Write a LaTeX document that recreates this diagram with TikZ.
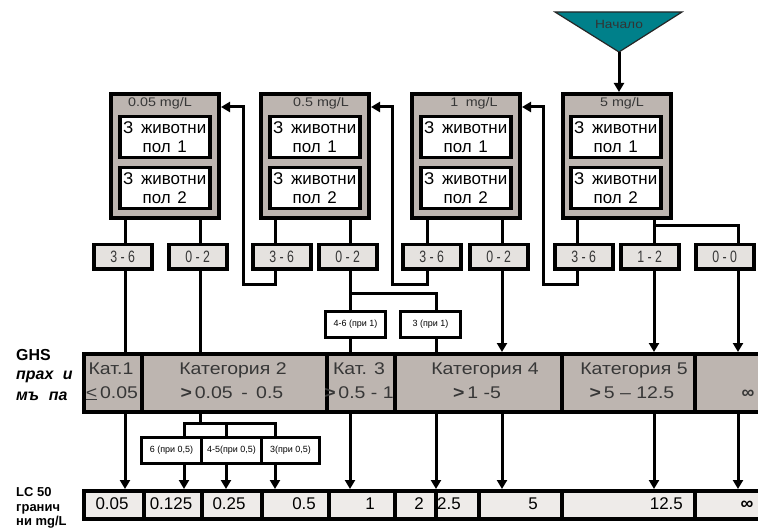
\documentclass[tikz,border=0pt]{standalone}
\usepackage{fontspec}
\setmainfont{Liberation Sans}
\newfontfamily\widefont[FakeStretch=1.15]{Liberation Sans}
\newfontfamily\condfont[FakeStretch=0.75]{Liberation Sans}
\usetikzlibrary{arrows.meta,calc}
\definecolor{dosegrey}{RGB}{189,181,176}
\definecolor{countfill}{RGB}{229,226,223}
\definecolor{lcfill}{RGB}{238,235,233}
\definecolor{startteal}{RGB}{0,128,138}
\definecolor{inkgrey}{RGB}{55,55,55}
\begin{document}
\begin{tikzpicture}[x=1bp,y=-1bp,
  every node/.style={inner sep=0pt},
  dosebox/.style={draw,line width=4bp,fill=dosegrey,minimum width=108bp,minimum height=124bp,anchor=north west},
  dosehead/.style={font=\widefont\fontsize{12.5}{14}\selectfont,text=inkgrey,anchor=base},
  animalbox/.style={draw,line width=3.5bp,fill=white,minimum width=90bp,minimum height=41bp,anchor=north west,align=center,font=\fontsize{17}{19}\selectfont},
  countbox/.style={draw,line width=3.5bp,fill=countfill,minimum width=58bp,minimum height=24bp,anchor=north west,font=\condfont\fontsize{16.5}{18}\selectfont,text=inkgrey},
  notebox/.style={draw,line width=3bp,fill=white,minimum height=26bp,anchor=north west,font=\fontsize{9}{11}\selectfont},
  katcell/.style={draw,line width=4bp,fill=dosegrey,minimum height=58bp,anchor=north west},
  lccell/.style={draw,line width=3.5bp,fill=lcfill,minimum height=28bp,anchor=north west},
  kattext/.style={font=\widefont\fontsize{17}{20}\selectfont,text=inkgrey,anchor=base},
  lctext/.style={font=\fontsize{17}{20}\selectfont,anchor=base},
  wire/.style={line width=3bp},
  flow/.style={line width=3bp,-{Triangle[width=10bp,length=9bp]}},
  sidelabel/.style={font=\bfseries\fontsize{16}{18}\selectfont,anchor=base west},
  lclabel/.style={font=\bfseries\fontsize{13}{15}\selectfont,anchor=base west},
]
\useasboundingbox (0,0) rectangle (758,528);

% start marker
\fill[startteal,draw=black!85,line width=1.2bp] (555,12) -- (682,12) -- (619,52) -- cycle;
\node[font=\widefont\fontsize{12}{14}\selectfont,text=black!80] (start) at (619,24) {Начало};
\coordinate (apex) at (619,52);

% dose boxes
\node[dosebox] (d1) at (109,92) {};
\node[dosebox] (d2) at (259,92) {};
\node[dosebox] (d3) at (410,92) {};
\node[dosebox] (d4) at (561,92) {};
\node[dosehead] (h1) at (160,107) {0.05 mg/L};
\node[dosehead] (h2) at (321,107) {0.5 mg/L};
\node[dosehead] (h3) at (474,107) {1\hspace{0.6em}mg/L};
\node[dosehead] (h4) at (622,107) {5 mg/L};

% animal groups
\foreach \n/\x in {1/118,2/268,3/419,4/569}{
  \node[animalbox] (a\n a) at (\x,115) {З\hspace{0.45em}животни\\пол\hspace{0.4em}1};
  \node[animalbox] (a\n b) at (\x,166) {З\hspace{0.45em}животни\\пол\hspace{0.4em}2};
}

% mortality counts
\node[countbox] (s1a) at (92,243) {3 - 6};
\node[countbox] (s1b) at (167,243) {0 - 2};
\node[countbox] (s2a) at (251,243) {3 - 6};
\node[countbox] (s2b) at (317,243) {0 - 2};
\node[countbox] (s3a) at (401,243) {3 - 6};
\node[countbox] (s3b) at (468,243) {0 - 2};
\node[countbox] (s4a) at (553,243) {3 - 6};
\node[countbox] (s4b) at (619,243) {1 - 2};
\node[countbox] (s4c) at (694,243) {0 - 0};

% wire columns
\coordinate (cA) at (125,0);
\coordinate (cB) at (200,0);
\coordinate (cC) at (275,0);
\coordinate (cD) at (350,0);
\coordinate (cE) at (427,0);
\coordinate (cF) at (502,0);
\coordinate (cG) at (577,0);
\coordinate (cH) at (654,0);
\coordinate (cI) at (738,0);
\coordinate (cJ) at (436,0);
\coordinate (cK) at (184,0);
\coordinate (cL) at (226,0);
\coordinate (cM) at (275,0);

% notes under 0.5 mg/L
\node[notebox,minimum width=60bp] (n46) at (324,310) {4-6 (при 1)};
\node[notebox,minimum width=60bp] (n3) at (399,310) {3 (при 1)};

% GHS category bar
\node[katcell,minimum width=58bp] (k1) at (82,352) {};
\node[katcell,minimum width=185bp] (k2) at (140,352) {};
\node[katcell,minimum width=68bp] (k3) at (325,352) {};
\node[katcell,minimum width=167bp] (k4) at (393,352) {};
\node[katcell,minimum width=133bp] (k5) at (560,352) {};
\node[katcell,minimum width=100bp] (k6) at (693,352) {};

\node[kattext] (t1a) at (111,374) {Кат.1};
\node[kattext] (t1b) at (112,398) {\underline{<}\,0.05};
\node[kattext] (t2a) at (233,374) {Категория 2};
\node[kattext] (t2b) at (232,398) {{\bfseries >}\,0.05\hspace{0.5em}-\hspace{0.5em}0.5};
\node[kattext] (t3a) at (359,374) {Кат. 3};
\node[kattext] (t3b) at (359,398) {{\bfseries >}\,0.5 - 1};
\node[kattext] (t4a) at (485,374) {Категория 4};
\node[kattext] (t4b) at (477,398) {{\bfseries >}\,1 -5};
\node[kattext] (t5a) at (634,374) {Категория 5};
\node[kattext] (t5b) at (632,398) {{\bfseries >}\,5 – 12.5};
\node[kattext,font=\bfseries\fontsize{18}{20}\selectfont] (t6b) at (748,398) {∞};

% notes under category 2
\node[notebox,minimum width=60bp] (n6) at (140,436) {6 (при 0,5)};
\node[notebox,minimum width=60bp] (n45) at (200,436) {4-5(при 0,5)};
\node[notebox,minimum width=58bp] (n3b) at (260,436) {3(при 0,5)};

% LC50 bar
\node[lccell,minimum width=60bp] (lc1) at (82,489) {};
\node[lccell,minimum width=58bp] (lc2) at (142,489) {};
\node[lccell,minimum width=60bp] (lc3) at (200,489) {};
\node[lccell,minimum width=67bp] (lc4) at (260,489) {};
\node[lccell,minimum width=66bp] (lc5) at (327,489) {};
\node[lccell,minimum width=41bp] (lc6) at (393,489) {};
\node[lccell,minimum width=43bp] (lc7) at (434,489) {};
\node[lccell,minimum width=83bp] (lc8) at (477,489) {};
\node[lccell,minimum width=133bp] (lc9) at (560,489) {};
\node[lccell,minimum width=100bp] (lc10) at (693,489) {};

\node[lctext] (v1) at (112,509) {0.05};
\node[lctext] (v2) at (171,509) {0.125};
\node[lctext] (v3) at (229,509) {0.25};
\node[lctext,anchor=base east] (v4) at (316,509) {0.5};
\node[lctext,anchor=base east] (v5) at (375,509) {1};
\node[lctext,anchor=base east] (v6) at (424,509) {2};
\node[lctext,anchor=base west] (v7) at (437,509) {2.5};
\node[lctext] (v8) at (533,509) {5};
\node[lctext,anchor=base east] (v9) at (683,509) {12.5};
\node[lctext,font=\bfseries\fontsize{18}{20}\selectfont] (v10) at (747,509) {∞};

% side labels
\node[sidelabel] (g1) at (16,360) {GHS};
\node[sidelabel] (g2) at (16,379) {\itshape прах\hspace{0.6em}и};
\node[sidelabel] (g3) at (16,400) {\itshape мъ\hspace{0.6em}па};
\node[lclabel] (l1) at (16,496) {LC 50};
\node[lclabel] (l2) at (16,511) {гранич};
\node[lclabel] (l3) at (16,525) {ни mg/L};

% start into 5 mg/L
\draw[flow] (apex) -- (apex |- d4.north);

% dose boxes down to counts
\draw[wire] (d1.south -| cA) -- (s1a.north -| cA);
\draw[wire] (d1.south -| cB) -- (s1b.north -| cB);
\draw[wire] (d2.south -| cC) -- (s2a.north -| cC);
\draw[wire] (d2.south -| cD) -- (s2b.north -| cD);
\draw[wire] (d3.south -| cE) -- (s3a.north -| cE);
\draw[wire] (d3.south -| cF) -- (s3b.north -| cF);
\draw[wire] (d4.south -| cG) -- (s4a.north -| cG);
\draw[wire] (d4.south -| cH) -- (s4b.north -| cH);
\coordinate (j4) at (654,226);
\draw[wire] (j4) -| (s4c.north -| cI);

% 3-6 deaths: step down to the next lower dose
\coordinate (b2) at (243,284);
\coordinate (b3) at (392,284);
\coordinate (b4) at (543,284);
\draw[flow] (s2a.south -| cC) |- (b2) |- ($(d1.north east)+(0,15)$);
\draw[flow] (s3a.south -| cE) |- (b3) |- ($(d2.north east)+(0,15)$);
\draw[flow] (s4a.south -| cG) |- (b4) |- ($(d3.north east)+(0,15)$);

% counts into categories
\draw[wire] (s1a.south -| cA) -- (k1.north -| cA);
\draw[wire] (s1b.south -| cB) -- (k2.north -| cB);
\draw[wire] (s2b.south -| cD) -- (n46.north -| cD);
\coordinate (j2) at (350,293);
\draw[wire] (j2) -| (n3.north -| cJ);
\draw[wire] (n46.south -| cD) -- (k3.north -| cD);
\draw[wire] (n3.south -| cJ) -- (k4.north -| cJ);
\draw[flow] (s3b.south -| cF) -- (k4.north -| cF);
\draw[flow] (s4b.south -| cH) -- (k5.north -| cH);
\draw[flow] (s4c.south -| cI) -- (k6.north -| cI);

% categories down to LC50 limits
\draw[flow] (k1.south -| cA) -- (lc1.north -| cA);
\coordinate (j5) at (200,423);
\draw[wire] (k2.south -| cB) -- (j5);
\draw[wire] (n6.north -| cK) -- ++(0,-13) -| (n3b.north -| cM);
\draw[wire] (n45.north -| cL) -- ++(0,-13);
\draw[flow] (n6.south -| cK) -- (lc2.north -| cK);
\draw[flow] (n45.south -| cL) -- (lc3.north -| cL);
\draw[flow] (n3b.south -| cM) -- (lc4.north -| cM);
\draw[flow] (k3.south -| cD) -- (lc5.north -| cD);
\draw[flow] (k4.south -| cJ) -- (lc6.north -| cJ);
\draw[flow] (k4.south -| cF) -- (lc8.north -| cF);
\draw[flow] (k5.south -| cH) -- (lc9.north -| cH);
\draw[flow] (k6.south -| cI) -- (lc10.north -| cI);
\end{tikzpicture}
\end{document}
